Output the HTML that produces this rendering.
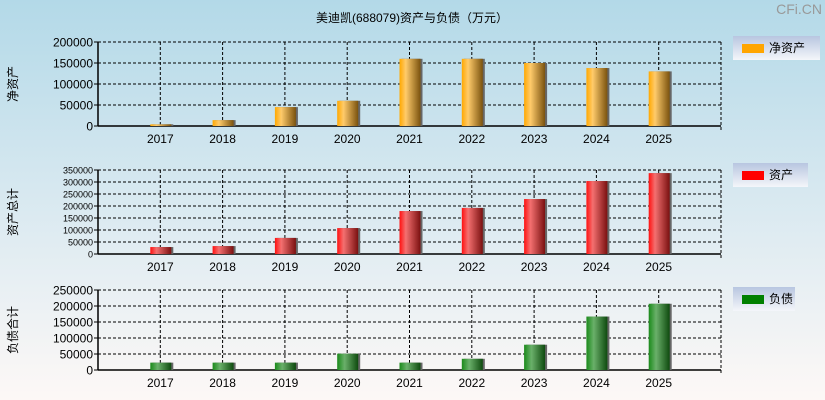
<!DOCTYPE html>
<html><head><meta charset="utf-8"><style>
body{margin:0;width:825px;height:400px;overflow:hidden}
svg{display:block;font-family:"Liberation Sans","Noto Sans CJK SC",sans-serif}
</style></head><body>
<svg id="c" width="825" height="400" xmlns="http://www.w3.org/2000/svg">
<defs>
<linearGradient id="bg" x1="0" y1="0" x2="0" y2="1"><stop offset="0" stop-color="#b3d9e8"/><stop offset="0.6" stop-color="#e0ecf2"/><stop offset="1" stop-color="#fdf8f6"/></linearGradient>
<linearGradient id="gO" x1="0" x2="1"><stop offset="0" stop-color="#ffa800"/><stop offset="0.3" stop-color="#ffcb6b"/><stop offset="1" stop-color="#7a520e"/></linearGradient>
<linearGradient id="gR" x1="0" x2="1"><stop offset="0" stop-color="#ff1010"/><stop offset="0.3" stop-color="#f47070"/><stop offset="1" stop-color="#7a1010"/></linearGradient>
<linearGradient id="gG" x1="0" x2="1"><stop offset="0" stop-color="#1a8a1a"/><stop offset="0.35" stop-color="#6ab06a"/><stop offset="1" stop-color="#0e4a0e"/></linearGradient>
<linearGradient id="lg" x1="0" y1="0" x2="0" y2="1"><stop offset="0" stop-color="#b8c6e0"/><stop offset="1" stop-color="#f4f6fa"/></linearGradient>
</defs>
<rect width="825" height="400" fill="url(#bg)"/>
<text x="412" y="22" font-size="12" text-anchor="middle">美迪凯(688079)资产与负债（万元）</text>
<text x="822" y="14" font-size="14" fill="#999" text-anchor="end">CFi.CN</text>
<g id="g"></g>
</svg>
<script>
const years=["2017","2018","2019","2020","2021","2022","2023","2024","2025"];
const netAssets=[4000,14000,45000,60000,160000,160000,150000,138000,130000];
const totalAssets=[29000,33000,67000,108000,179000,192000,229000,304000,337000];
const liabilities=[23000,23000,23000,51000,23000,35000,79000,167000,207000];
const ticksTop=[0,50000,100000,150000,200000];
const ticksMid=[0,50000,100000,150000,200000,250000,300000,350000];
const ticksBot=[0,50000,100000,150000,200000,250000];
const NS="http://www.w3.org/2000/svg",G=document.getElementById('g');
function mk(t,a,p){const e=document.createElementNS(NS,t);for(const k in a)e.setAttribute(k,a[k]);(p||G).appendChild(e);return e;}
const X0=98,X1=721,slot=(X1-X0)/10;
const xc=i=>X0+(i+1)*slot;
function panel(key,vals,ticks,y0,y1,fill,tfs,ytitle,leg,legColor,lx,ly,lw){
  const max=ticks[ticks.length-1];
  const ys=v=>y1-(v/max)*(y1-y0);
  const g=mk('g',{});
  
  
  ticks.forEach(t=>{
    const y=ys(t);
    if(t>0){const l=mk('line',{x1:X0,x2:X1,y1:y,y2:y,stroke:'#000','stroke-dasharray':'3,2','stroke-width':1},g);
      }
    const tx=mk('text',{x:X0-5,y:y+tfs*0.38,'font-size':tfs,'text-anchor':'end'},g);
    tx.textContent=t;
    mk('line',{x1:X0-4,x2:X0,y1:y,y2:y,stroke:'#000'},g);
  });
  years.forEach((yr,i)=>{
    const x=xc(i);
    const l=mk('line',{x1:x,x2:x,y1:y0,y2:y1,stroke:'#000','stroke-dasharray':'3,2'},g);
    
    const t=mk('text',{x:x,y:y1+17,'font-size':12,'text-anchor':'middle'},g);
    t.textContent=yr;
  });
  mk('line',{x1:X1,x2:X1,y1:y0,y2:y1+4,stroke:'#000','stroke-dasharray':'3,2'},g);
  mk('line',{x1:X0,x2:X1,y1:y0,y2:y0,stroke:'#000','stroke-dasharray':'3,2'},g);
  mk('line',{x1:X0,x2:X0,y1:y0,y2:y1,stroke:'#000','stroke-width':1.5},g);
  mk('line',{x1:X0,x2:X1,y1:y1,y2:y1,stroke:'#000','stroke-width':1.5},g);
  vals.forEach((v,i)=>{
    const y=ys(v);
    mk('rect',{x:xc(i)-10+2,y:y,width:21,height:y1-y,fill:'#666'},g);
    const r=mk('rect',{x:xc(i)-10,y:y,width:21,height:y1-y,fill:fill},g);
    
  });
  const yt=mk('text',{x:0,y:0,'font-size':12,'text-anchor':'middle',transform:`translate(17,${(y0+y1)/2}) rotate(-90)`},g);
  yt.textContent=ytitle;
  const lgd=mk('g',{},g);
  
  mk('rect',{x:lx,y:ly,width:lw,height:24,fill:'url(#lg)'},lgd);
  mk('rect',{x:lx+9,y:ly+8,width:22,height:9,fill:legColor},lgd);
  const lt=mk('text',{x:lx+36,y:ly+16,'font-size':12},lgd);lt.textContent=leg;
}
panel('net-assets',netAssets,ticksTop,42,126,'url(#gO)',12,'净资产','净资产','#ffa500',733,36,87);
panel('total-assets',totalAssets,ticksMid,170,254,'url(#gR)',9,'资产总计','资产','#ff0000',733,163,75);
panel('liabilities',liabilities,ticksBot,290,370,'url(#gG)',12,'负债合计','负债','#008000',733,287,62);
</script>
</body></html>
